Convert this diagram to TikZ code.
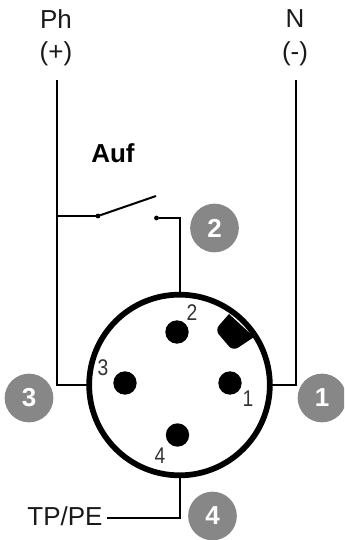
\documentclass[tikz,border=0pt]{standalone}
\usepackage{fontspec}
\setmainfont{Liberation Sans}
\tikzstyle{every node}=[inner sep=0pt,outer sep=0pt,font=\fontsize{19.5}{20}\selectfont,text=black!90]
\tikzstyle{wire}=[line width=1.5pt]
\tikzstyle{pin}=[circle,fill=black,minimum size=17.5pt]
\tikzstyle{contact}=[circle,fill=black,minimum size=3.6pt]
\tikzstyle{badge}=[circle,fill=black!47,text=white,minimum size=36.5pt,font=\fontsize{19.5}{20}\selectfont\bfseries]
\tikzstyle{pinlabel}=[font=\fontsize{17}{17}\selectfont,text=black!80,xscale=.85]

\begin{document}
\begin{tikzpicture}[x=0.75pt,y=-0.75pt]
  \useasboundingbox (0,0) rectangle (344,540);
  \clip (0,0) rectangle (344,540);
  % supply
  \node (ph) at (56,19) {Ph};
  \node (phsign) at (56,54) {(+)};
  \node (n) at (295,19) {N};
  \node (nsign) at (295,54) {(-)};
  \node [font=\fontsize{19.5}{20}\selectfont\bfseries,text=black] (auf) at (113,153) {Auf};
  % connector
  \node [circle,draw=black,line width=4.3pt,minimum size=135.5pt] (plug) at (179.5,385) {};
  \node [pin] (pinb) at (177,332) {};
  \node [pin] (pinc) at (125,383) {};
  \node [pin] (pina) at (230,383) {};
  \node [pin] (pind) at (177.5,435) {};
  \fill (229,314) -- (254,337) [rounded corners=4.5pt] -- (233,351) -- (215,330) [sharp corners] -- cycle;
  \node [pinlabel] (labelb) at (192,313) {2};
  \node [pinlabel] (labelc) at (103,368) {3};
  \node [pinlabel] (labela) at (248,399) {1};
  \node [pinlabel] (labeld) at (160,456) {4};
  % badges
  \node [badge] (badgeb) at (214.5,228) {2};
  \node [badge] (badgec) at (29,398) {3};
  \node [badge] (badgea) at (322,398) {1};
  \node [badge] (badged) at (212.5,516) {4};
  % switch
  \node [contact] (swin) at (98,216) {};
  \node [contact] (swout) at (156.5,218) {};
  \coordinate (swtip) at (156,196);
  \coordinate (tap) at (57,216);
  \draw [wire] (tap) -- (swin);
  \draw [wire] (swin) -- (swtip);
  \draw [wire] (swout) -| (plug.north);
  % wires
  \coordinate (phtop) at (57,80);
  \coordinate (ntop) at (296,80);
  \draw [wire] (phtop) |- (plug.west);
  \draw [wire] (ntop) |- (plug.east);
  \node (tppe) at (65,516) {TP/PE};
  \coordinate (tpstart) at (107,518);
  \draw [wire] (tpstart) -| (plug.south);
\end{tikzpicture}
\end{document}
